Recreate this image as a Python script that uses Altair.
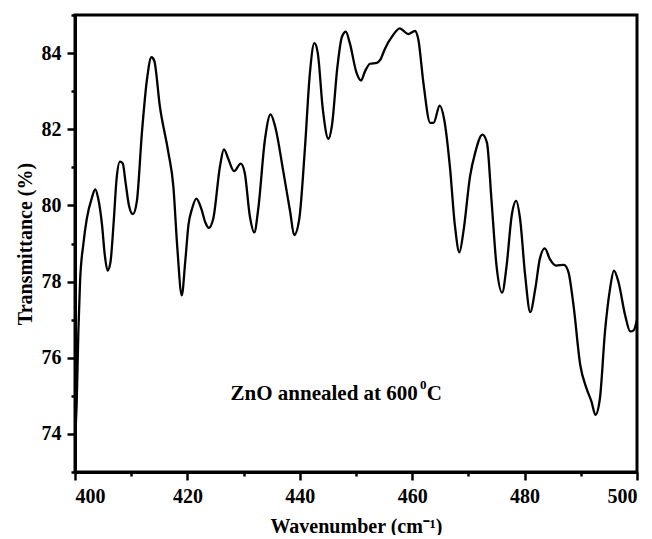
import altair as alt
import pandas as pd

wavenumber = [400.0, 400.3, 400.6, 400.9, 401.5, 402.1, 403.0, 403.6, 404.1, 404.8, 405.3, 405.8,
              406.3, 406.9, 407.4, 408.0, 408.5, 409.0, 409.6, 410.3, 411.0, 411.9, 412.8, 413.6,
              414.1, 415.1, 416.6, 417.5, 418.2, 419.0, 419.6, 420.2, 420.8, 421.6, 422.5, 423.2,
              423.8, 424.6, 425.8, 426.5, 427.3, 428.3, 429.5, 430.2, 431.1, 431.9, 432.6, 433.8,
              434.8, 435.6, 437.1, 438.3, 439.0, 439.9, 440.9, 441.8, 442.6, 443.2, 444.1, 445.1,
              445.7, 446.7, 447.5, 448.2, 448.9, 450.1, 450.9, 451.6, 452.5, 453.7, 454.3, 455.2,
              456.4, 457.8, 458.4, 459.3, 460.5, 461.1, 462.0, 463.2, 463.8, 464.9, 465.7, 466.7,
              467.6, 468.4, 469.1, 470.3, 471.2, 472.5, 473.3, 474.1, 475.0, 476.0, 476.8, 477.7,
              478.5, 479.2, 480.1, 481.0, 481.9, 482.7, 483.6, 484.5, 485.6, 487.0, 487.8, 488.7,
              489.9, 491.0, 491.9, 492.6, 493.4, 494.3, 495.2, 495.9, 496.7, 497.9, 498.8, 499.4,
              500.0]
transmittance = [73.9, 74.8, 76.7, 78.0, 79.0, 79.65, 80.2, 80.42, 80.2, 79.5, 78.7, 78.29,
                 78.5, 79.6, 80.7, 81.15, 81.1, 80.6, 80.0, 79.77, 80.1, 81.9, 83.3, 83.89,
                 83.8, 82.6, 81.4, 80.5, 78.9, 77.64, 78.5, 79.5, 79.9, 80.18, 79.9, 79.55,
                 79.41, 79.65, 81.03, 81.47, 81.21, 80.9, 81.1, 80.86, 79.73, 79.29, 79.9, 81.73,
                 82.39, 82.08, 80.86, 79.82, 79.22, 79.64, 81.47, 83.48, 84.26, 84.0, 82.52, 81.75,
                 82.08, 83.65, 84.43, 84.56, 84.26, 83.48, 83.28, 83.52, 83.72, 83.74, 83.82, 84.13,
                 84.43, 84.65, 84.59, 84.5, 84.58, 84.35, 83.21, 82.17, 82.17, 82.62, 82.25, 81.03,
                 79.47, 78.77, 79.3, 80.77, 81.38, 81.86, 81.65, 80.16, 78.42, 77.71, 78.42, 79.73,
                 80.12, 79.64, 78.16, 77.2, 77.81, 78.59, 78.87, 78.59, 78.42, 78.44, 78.25, 77.38,
                 75.81, 75.2, 74.85, 74.5, 74.93, 76.68, 77.81, 78.29, 77.99, 77.11, 76.69, 76.72,
                 77.0]

x_major = [400, 420, 440, 460, 480, 500]
x_minor = [410, 430, 450, 470, 490]
y_major = [74, 76, 78, 80, 82, 84]
y_minor = [73, 75, 77, 79, 81, 83, 85]

annot_main = "ZnO annealed at 600"
annot_sup = "0"
annot_end = "C"

df = pd.DataFrame({"w": wavenumber, "t": transmittance})

FONT = "Liberation Serif, Times New Roman, serif"
xscale = alt.Scale(domain=[400, 500], nice=False, zero=False)
yscale = alt.Scale(domain=[73, 85], nice=False, zero=False)

main = alt.Chart(df).mark_line(color="black", strokeWidth=2.3, interpolate="monotone").encode(
    x=alt.X("w:Q", scale=xscale, axis=alt.Axis(
        values=x_major, tickSize=8, tickWidth=2.5, orient="bottom", format="d",
        title="Wavenumber (cm\u207b\u00b9)", titlePadding=10, labelPadding=6)),
    y=alt.Y("t:Q", scale=yscale, axis=alt.Axis(
        values=y_major, tickSize=8, tickWidth=2.5, orient="left", format="d",
        title="Transmittance (%)", titlePadding=6, labelPadding=6)),
)

minor = alt.Chart(df).mark_line(strokeOpacity=0).encode(
    x=alt.X("w:Q", scale=xscale, axis=alt.Axis(
        values=x_minor, tickSize=4, tickWidth=2.5, orient="bottom", labels=False,
        domain=False, title="")),
    y=alt.Y("t:Q", scale=yscale, axis=alt.Axis(
        values=y_minor, tickSize=4, tickWidth=2.5, orient="left", labels=False,
        domain=False, title="")),
)

ann_df = pd.DataFrame({
    "w": [461.0, 461.4, 462.6],
    "t": [74.89, 75.17, 74.89],
    "s": [annot_main, annot_sup, annot_end],
})

txt_main = alt.Chart(ann_df.iloc[[0]]).mark_text(
    font=FONT, fontWeight="bold", fontSize=21, align="right", baseline="alphabetic", color="black"
).encode(x=alt.X("w:Q", scale=xscale, axis=None), y=alt.Y("t:Q", scale=yscale, axis=None), text="s:N")

txt_sup = alt.Chart(ann_df.iloc[[1]]).mark_text(
    font=FONT, fontWeight="bold", fontSize=13, align="left", baseline="alphabetic", color="black"
).encode(x=alt.X("w:Q", scale=xscale, axis=None), y=alt.Y("t:Q", scale=yscale, axis=None), text="s:N")

txt_end = alt.Chart(ann_df.iloc[[2]]).mark_text(
    font=FONT, fontWeight="bold", fontSize=21, align="left", baseline="alphabetic", color="black"
).encode(x=alt.X("w:Q", scale=xscale, axis=None), y=alt.Y("t:Q", scale=yscale, axis=None), text="s:N")

chart = alt.layer(main, minor, txt_main, txt_sup, txt_end).resolve_axis(
    x="independent", y="independent"
).properties(
    width=562, height=457,
    padding={"left": 67, "top": 7, "right": 7, "bottom": 63},
    autosize=alt.AutoSizeParams(type="none"),
).configure_view(
    stroke="black", strokeWidth=3
).configure_axis(
    domainColor="black", domainWidth=3, tickColor="black", grid=False,
    labelFont=FONT, labelFontWeight="bold", labelFontSize=20, labelColor="black",
    titleFont=FONT, titleFontWeight="bold", titleFontSize=20, titleColor="black",
)

chart.save("out.html", embed_options={"renderer": "svg", "actions": False})
